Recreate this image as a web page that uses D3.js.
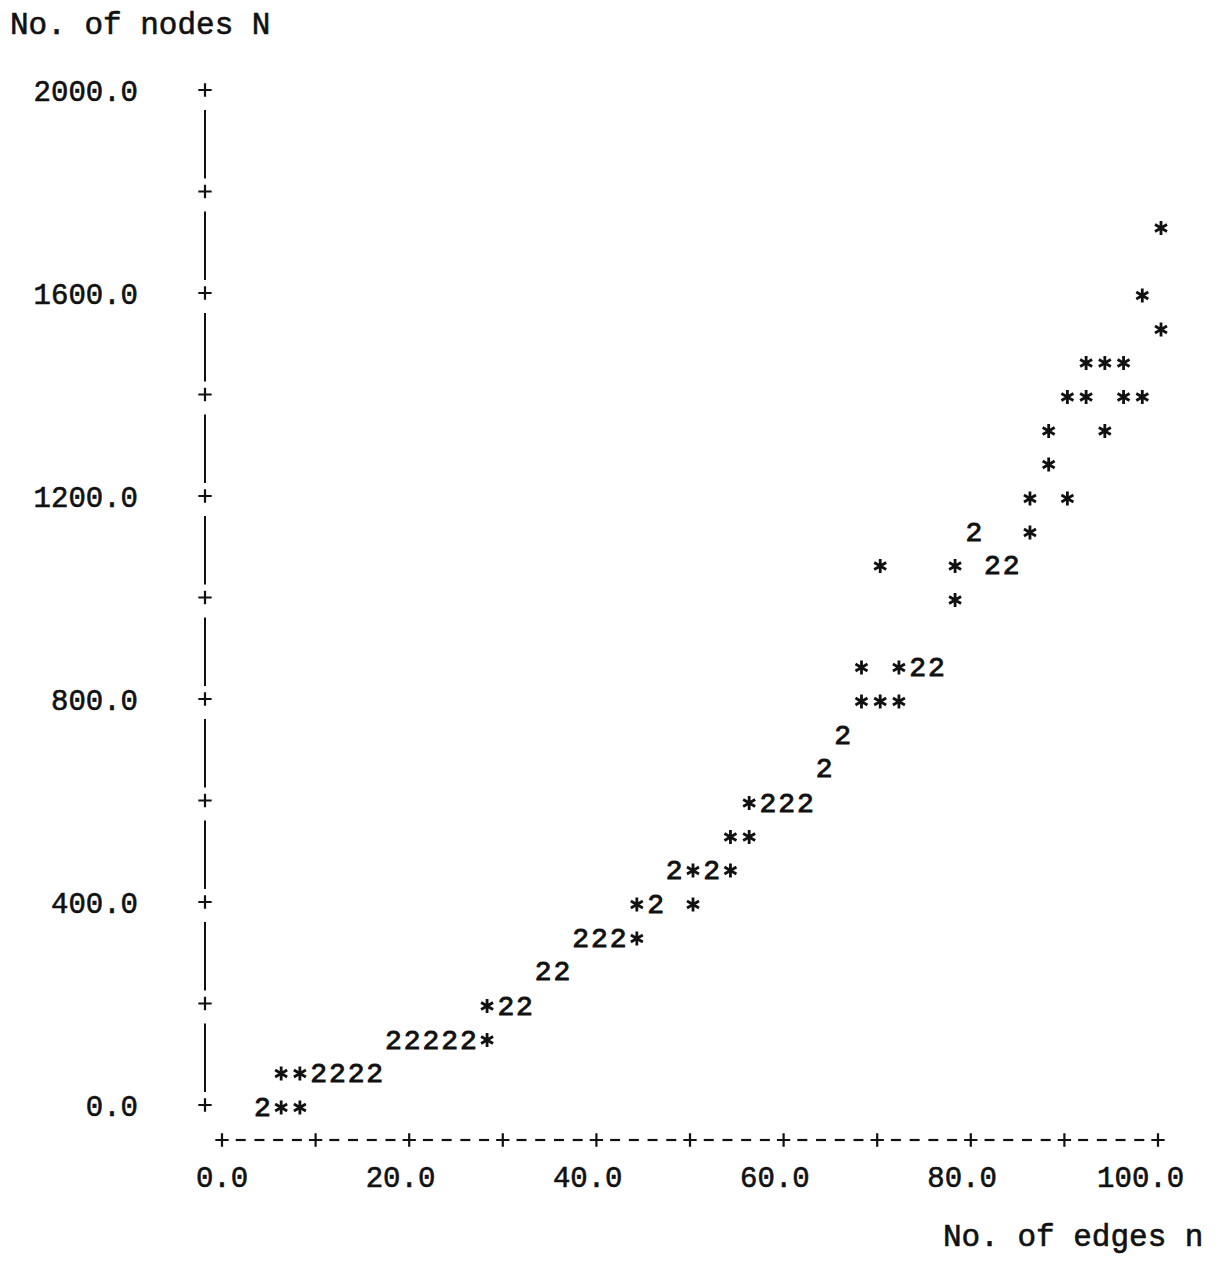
<!DOCTYPE html>
<html>
<head>
<meta charset="utf-8">
<script src="https://cdn.jsdelivr.net/npm/d3@7"></script>
<style>
  body { margin: 0; background: #fff; }
  svg { display: block; }
  text { font-family: "Liberation Mono", "DejaVu Sans Mono", monospace; fill: #111; stroke: #111; stroke-width: 0.6px; }
  text.pair { stroke-width: 0.9px; }
</style>
</head>
<body>
<svg id="chart" width="1218" height="1262"></svg>
<script>
// Cells holding one graph, printed as '*': edges n and nodes N
const singleEdges = [6, 8, 6, 8, 28, 28, 44, 44, 50, 50, 54, 54, 56, 56,
  68, 70, 72, 68, 72, 78, 70, 78, 86, 86, 90, 88, 88, 94,
  90, 92, 96, 98, 92, 94, 96, 100, 98, 100];
const singleNodes = [0, 0, 67, 67, 133, 200, 333, 400, 400, 467, 467, 533, 533, 600,
  800, 800, 800, 867, 867, 1000, 1067, 1067, 1133, 1200, 1200, 1267, 1333, 1333,
  1400, 1400, 1400, 1400, 1467, 1467, 1467, 1533, 1600, 1733];

// Cells holding two graphs, printed as '2'
const pairEdges = [4, 10, 12, 14, 16, 18, 20, 22, 24, 26, 30, 32, 34, 36,
  38, 40, 42, 46, 48, 52, 58, 60, 62, 64, 66, 74, 76, 82, 84, 80];
const pairNodes = [0, 67, 67, 67, 67, 133, 133, 133, 133, 133, 200, 200, 267, 267,
  333, 333, 333, 400, 467, 467, 600, 600, 600, 667, 733, 867, 867, 1067, 1067, 1133];

// Axis ticks and labels
const yTicks = [0, 200, 400, 600, 800, 1000, 1200, 1400, 1600, 1800, 2000];
const yLabels = [0, 400, 800, 1200, 1600, 2000];
const xTicks = [0, 10, 20, 30, 40, 50, 60, 70, 80, 90, 100];
const xDashes = d3.range(0, 100, 2).filter(v => v % 10 !== 0);
const xLabels = [0, 20, 40, 60, 80, 100];
const yTitle = "No. of nodes N";
const xTitle = "No. of edges n";

const singles = singleEdges.map((n, i) => ({ n, N: singleNodes[i] }));
const pairs = pairEdges.map((n, i) => ({ n, N: pairNodes[i] }));

const svg = d3.select("#chart");
const ink = "#111";

const x = d3.scaleLinear().domain([0, 100]).range([222, 1158]);
const y = d3.scaleLinear().domain([0, 2000]).range([1105, 90]);

const fmt = d3.format(".1f");
const labelSize = 29;
const adv = 0.6 * labelSize;

const plus = d3.symbol().type(d3.symbolPlus).size(60);
const star = d3.symbol().type(d3.symbolAsterisk).size(135);

// Vertical axis: '+' at each tick, '|' runs between them
const yAxisX = 205;
const yAx = svg.append("g");
yAx.selectAll("path.tick").data(yTicks).join("path")
  .attr("class", "tick")
  .attr("d", plus)
  .attr("transform", d => `translate(${yAxisX},${y(d)})`)
  .attr("fill", "none").attr("stroke", ink).attr("stroke-width", 2.2);
yAx.selectAll("line.run").data(d3.pairs(yTicks)).join("line")
  .attr("class", "run")
  .attr("x1", yAxisX).attr("x2", yAxisX)
  .attr("y1", d => y(d[1]) + 20)
  .attr("y2", d => y(d[0]) - 13)
  .attr("stroke", ink).attr("stroke-width", 2);
yAx.selectAll("text").data(yLabels).join("text")
  .attr("x", 138)
  .attr("y", d => y(d) + 11)
  .attr("text-anchor", "end")
  .attr("font-size", labelSize)
  .text(d => fmt(d));

// Horizontal axis: '+----+----+ ...'
const xAxisY = 1140;
const xAx = svg.append("g");
xAx.selectAll("path.tick").data(xTicks).join("path")
  .attr("class", "tick")
  .attr("d", plus)
  .attr("transform", d => `translate(${x(d)},${xAxisY})`)
  .attr("fill", "none").attr("stroke", ink).attr("stroke-width", 2.2);
xAx.selectAll("line.dash").data(xDashes).join("line")
  .attr("class", "dash")
  .attr("x1", d => x(d) - 5).attr("x2", d => x(d) + 5)
  .attr("y1", xAxisY).attr("y2", xAxisY)
  .attr("stroke", ink).attr("stroke-width", 2.2);
// labels placed so the decimal point sits under the tick
xAx.selectAll("text").data(xLabels).join("text")
  .attr("x", d => x(d) - (String(Math.round(d)).length + 0.5) * adv)
  .attr("y", 1187)
  .attr("font-size", labelSize)
  .text(d => fmt(d));

// Axis titles
svg.append("text").attr("x", 10).attr("y", 34).attr("font-size", 31).text(yTitle);
svg.append("text").attr("x", 943).attr("y", 1246).attr("font-size", 31).text(xTitle);

// Plotted cells (printed slightly right of the column position)
const shift = 3;
const marks = svg.append("g");
marks.selectAll("path.single").data(singles).join("path")
  .attr("class", "single")
  .attr("d", star)
  .attr("transform", d => `translate(${x(d.n) + shift},${y(d.N) + 2.5})`)
  .attr("fill", "none").attr("stroke", ink).attr("stroke-width", 2.8);
marks.selectAll("text.pair").data(pairs).join("text")
  .attr("class", "pair")
  .attr("x", d => x(d.n) + shift)
  .attr("y", d => y(d.N) + 11)
  .attr("text-anchor", "middle")
  .attr("font-size", 28)
  .text("2");
</script>
</body>
</html>
